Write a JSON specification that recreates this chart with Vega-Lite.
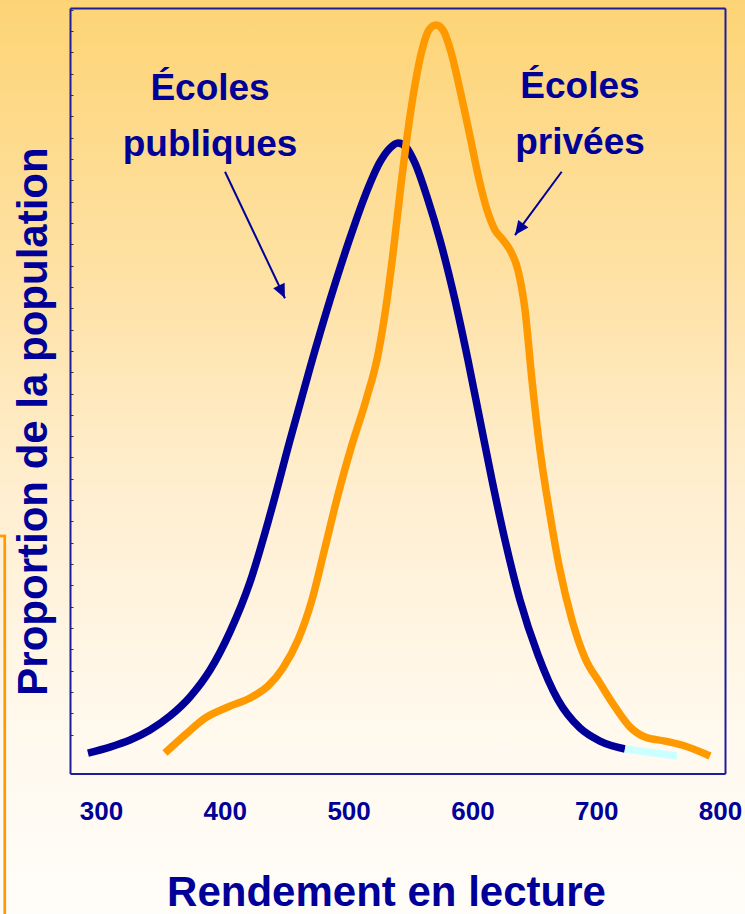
{
  "$schema": "https://vega.github.io/schema/vega-lite/v6.json",
  "width": 745,
  "height": 914,
  "autosize": "none",
  "padding": 0,
  "background": "#FFFDF8",
  "view": {
    "stroke": null,
    "fill": {
      "gradient": "linear",
      "x1": 0, "y1": 0, "x2": 0, "y2": 1,
      "stops": [
        {"offset": 0, "color": "#FDD475"},
        {"offset": 0.3, "color": "#FEE1A4"},
        {"offset": 0.55, "color": "#FFEFD2"},
        {"offset": 0.8, "color": "#FFF9EE"},
        {"offset": 1, "color": "#FFFDF9"}
      ]
    }
  },
  "config": {"font": "Liberation Sans"},
  "datasets": {
    "courbes": [
      {"serie": "publiques", "score": 289.5, "proportion": 0.96},
      {"serie": "publiques", "score": 307.3, "proportion": 1.24},
      {"serie": "publiques", "score": 323.5, "proportion": 1.57},
      {"serie": "publiques", "score": 339.6, "proportion": 2.04},
      {"serie": "publiques", "score": 355.8, "proportion": 2.70},
      {"serie": "publiques", "score": 371.9, "proportion": 3.59},
      {"serie": "publiques", "score": 388.1, "proportion": 4.85},
      {"serie": "publiques", "score": 404.2, "proportion": 6.64},
      {"serie": "publiques", "score": 420.4, "proportion": 8.98},
      {"serie": "publiques", "score": 436.5, "proportion": 12.12},
      {"serie": "publiques", "score": 452.7, "proportion": 15.64},
      {"serie": "publiques", "score": 468.8, "proportion": 19.02},
      {"serie": "publiques", "score": 485.0, "proportion": 22.21},
      {"serie": "publiques", "score": 501.1, "proportion": 25.11},
      {"serie": "publiques", "score": 513.2, "proportion": 27.08},
      {"serie": "publiques", "score": 525.4, "proportion": 28.68},
      {"serie": "publiques", "score": 533.4, "proportion": 29.33},
      {"serie": "publiques", "score": 539.9, "proportion": 29.57},
      {"serie": "publiques", "score": 546.4, "proportion": 29.38},
      {"serie": "publiques", "score": 553.6, "proportion": 28.63},
      {"serie": "publiques", "score": 564.1, "proportion": 26.90},
      {"serie": "publiques", "score": 573.8, "proportion": 25.02},
      {"serie": "publiques", "score": 585.9, "proportion": 22.21},
      {"serie": "publiques", "score": 596.4, "proportion": 19.39},
      {"serie": "publiques", "score": 606.1, "proportion": 16.58},
      {"serie": "publiques", "score": 615.8, "proportion": 13.76},
      {"serie": "publiques", "score": 626.3, "proportion": 10.95},
      {"serie": "publiques", "score": 638.4, "proportion": 8.14},
      {"serie": "publiques", "score": 653.0, "proportion": 5.56},
      {"serie": "publiques", "score": 669.1, "proportion": 3.45},
      {"serie": "publiques", "score": 686.9, "proportion": 2.13},
      {"serie": "publiques", "score": 703.0, "proportion": 1.52},
      {"serie": "publiques", "score": 723.2, "proportion": 1.15},
      {"serie": "publiques_fin", "score": 723.2, "proportion": 1.15},
      {"serie": "publiques_fin", "score": 765.2, "proportion": 0.82},
      {"serie": "privées", "score": 351.7, "proportion": 0.96},
      {"serie": "privées", "score": 367.9, "proportion": 1.81},
      {"serie": "privées", "score": 384.0, "proportion": 2.60},
      {"serie": "privées", "score": 402.6, "proportion": 3.12},
      {"serie": "privées", "score": 420.4, "proportion": 3.54},
      {"serie": "privées", "score": 434.9, "proportion": 4.10},
      {"serie": "privées", "score": 447.0, "proportion": 4.95},
      {"serie": "privées", "score": 459.1, "proportion": 6.26},
      {"serie": "privées", "score": 470.4, "proportion": 8.14},
      {"serie": "privées", "score": 480.9, "proportion": 10.58},
      {"serie": "privées", "score": 491.4, "proportion": 13.06},
      {"serie": "privées", "score": 502.7, "proportion": 15.41},
      {"serie": "privées", "score": 514.1, "proportion": 17.52},
      {"serie": "privées", "score": 523.7, "proportion": 19.63},
      {"serie": "privées", "score": 531.0, "proportion": 22.21},
      {"serie": "privées", "score": 536.7, "proportion": 24.79},
      {"serie": "privées", "score": 542.3, "proportion": 27.60},
      {"serie": "privées", "score": 548.0, "proportion": 30.18},
      {"serie": "privées", "score": 553.6, "proportion": 32.29},
      {"serie": "privées", "score": 559.3, "proportion": 33.93},
      {"serie": "privées", "score": 564.9, "proportion": 34.87},
      {"serie": "privées", "score": 570.6, "proportion": 35.10},
      {"serie": "privées", "score": 576.2, "proportion": 34.87},
      {"serie": "privées", "score": 582.7, "proportion": 33.84},
      {"serie": "privées", "score": 590.0, "proportion": 32.05},
      {"serie": "privées", "score": 598.0, "proportion": 29.90},
      {"serie": "privées", "score": 605.0, "proportion": 27.95},
      {"serie": "privées", "score": 611.8, "proportion": 26.43},
      {"serie": "privées", "score": 618.2, "proportion": 25.49},
      {"serie": "privées", "score": 624.7, "proportion": 25.02},
      {"serie": "privées", "score": 631.2, "proportion": 24.46},
      {"serie": "privées", "score": 636.8, "proportion": 23.61},
      {"serie": "privées", "score": 642.5, "proportion": 21.74},
      {"serie": "privées", "score": 648.1, "proportion": 18.45},
      {"serie": "privées", "score": 654.6, "proportion": 15.17},
      {"serie": "privées", "score": 662.7, "proportion": 12.12},
      {"serie": "privées", "score": 670.7, "proportion": 9.54},
      {"serie": "privées", "score": 680.4, "proportion": 7.20},
      {"serie": "privées", "score": 690.9, "proportion": 5.42},
      {"serie": "privées", "score": 703.0, "proportion": 4.24},
      {"serie": "privées", "score": 715.2, "proportion": 3.12},
      {"serie": "privées", "score": 727.3, "proportion": 2.18},
      {"serie": "privées", "score": 739.4, "proportion": 1.71},
      {"serie": "privées", "score": 755.5, "proportion": 1.52},
      {"serie": "privées", "score": 771.7, "proportion": 1.29},
      {"serie": "privées", "score": 791.9, "proportion": 0.82}
    ],
    "fleches": [
      {"fleche": "publiques", "score": 400.2, "proportion": 28.22, "score_fin": 448.6, "proportion_fin": 22.29},
      {"fleche": "privées", "score": 672.1, "proportion": 28.22, "score_fin": 634.4, "proportion_fin": 25.25}
    ],
    "etiquettes": [
      {"texte": "Écoles\npubliques", "score": 388.1, "proportion": 31.6},
      {"texte": "Écoles\nprivées", "score": 686.9, "proportion": 31.7}
    ]
  },
  "layer": [
    {
      "data": {"name": "courbes"},
      "transform": [{"filter": "datum.serie === 'publiques'"}],
      "mark": {"type": "line", "color": "#000099", "strokeWidth": 7.5, "interpolate": "monotone", "strokeCap": "butt", "strokeJoin": "round"},
      "encoding": {
        "x": {
          "field": "score", "type": "quantitative",
          "scale": {"domain": [275, 804], "range": [70, 725], "zero": false, "nice": false},
          "axis": {
            "orient": "bottom", "offset": -140.5,
            "values": [300, 400, 500, 600, 700, 800],
            "domainColor": "#1c1c9c", "domainWidth": 2,
            "ticks": false, "tickSize": 0, "grid": false,
            "labelFontSize": 26, "labelFontWeight": "bold", "labelColor": "#000099",
            "labelPadding": 25, "labelFlush": false, "labelOverlap": false,
            "title": "Rendement en lecture",
            "titleFontSize": 42, "titleFontWeight": "bold", "titleColor": "#000099",
            "titleX": 386, "titleY": 131.5, "titleBaseline": "alphabetic", "titleAlign": "center"
          }
        },
        "y": {
          "field": "proportion", "type": "quantitative",
          "scale": {"domain": [0, 35.9], "range": [773.5, 8], "zero": false, "nice": false},
          "axis": {
            "orient": "left", "offset": -70,
            "values": [1.82, 2.82, 3.82, 4.82, 5.82, 6.82, 7.82, 8.82, 9.82, 10.82, 11.82, 12.82, 13.82, 14.82, 15.82, 16.82, 17.82, 18.82, 19.82, 20.82, 21.82, 22.82, 23.82, 24.82, 25.82, 26.82, 27.82, 28.82, 29.82, 30.82, 31.82, 32.82, 33.82, 34.82, 35.82],
            "domainColor": "#1c1c9c", "domainWidth": 2,
            "ticks": true, "tickSize": -3, "tickColor": "#333333", "tickWidth": 1,
            "labels": false, "grid": false,
            "title": "Proportion de la population",
            "titleFontSize": 42, "titleFontWeight": "bold", "titleColor": "#000099",
            "titleAngle": -90, "titleX": -24, "titleY": 421, "titleBaseline": "alphabetic", "titleAlign": "center"
          }
        }
      }
    },
    {
      "data": {"name": "courbes"},
      "transform": [{"filter": "datum.serie === 'privées'"}],
      "mark": {"type": "line", "color": "#FF9900", "strokeWidth": 7.5, "interpolate": "monotone", "strokeCap": "butt", "strokeJoin": "round"},
      "encoding": {
        "x": {
          "field": "score", "type": "quantitative",
          "scale": {"domain": [275, 804], "range": [70, 725], "zero": false, "nice": false},
          "axis": {"orient": "top", "offset": -8, "domainColor": "#1c1c9c", "domainWidth": 2, "ticks": false, "labels": false, "grid": false, "title": null}
        },
        "y": {
          "field": "proportion", "type": "quantitative",
          "scale": {"domain": [0, 35.9], "range": [773.5, 8], "zero": false, "nice": false},
          "axis": {"orient": "right", "offset": -20, "domainColor": "#1c1c9c", "domainWidth": 2, "ticks": false, "labels": false, "grid": false, "title": null}
        }
      }
    },
    {
      "data": {"name": "courbes"},
      "transform": [{"filter": "datum.serie === 'publiques_fin'"}],
      "mark": {"type": "line", "color": "#CCFFFF", "strokeWidth": 7.5, "strokeCap": "butt"},
      "encoding": {
        "x": {"field": "score", "type": "quantitative", "axis": null},
        "y": {"field": "proportion", "type": "quantitative", "axis": null}
      }
    },
    {
      "data": {"name": "fleches"},
      "mark": {"type": "rule", "color": "#000099", "strokeWidth": 2},
      "encoding": {
        "x": {"field": "score", "type": "quantitative", "axis": null},
        "y": {"field": "proportion", "type": "quantitative", "axis": null},
        "x2": {"field": "score_fin"},
        "y2": {"field": "proportion_fin"}
      }
    },
    {
      "data": {"name": "fleches"},
      "transform": [{"filter": "datum.fleche === 'publiques'"}],
      "mark": {"type": "point", "shape": "M0,0L-0.45,1L0.45,1Z", "size": 784, "angle": 154.6, "filled": true, "color": "#000099", "opacity": 1, "strokeWidth": 0},
      "encoding": {
        "x": {"field": "score_fin", "type": "quantitative", "axis": null},
        "y": {"field": "proportion_fin", "type": "quantitative", "axis": null}
      }
    },
    {
      "data": {"name": "fleches"},
      "transform": [{"filter": "datum.fleche === 'privées'"}],
      "mark": {"type": "point", "shape": "M0,0L-0.45,1L0.45,1Z", "size": 784, "angle": 216.4, "filled": true, "color": "#000099", "opacity": 1, "strokeWidth": 0},
      "encoding": {
        "x": {"field": "score_fin", "type": "quantitative", "axis": null},
        "y": {"field": "proportion_fin", "type": "quantitative", "axis": null}
      }
    },
    {
      "data": {"name": "etiquettes"},
      "mark": {"type": "text", "align": "center", "baseline": "alphabetic", "fontSize": 37, "fontWeight": "bold", "color": "#000099", "lineBreak": "\n", "lineHeight": 56},
      "encoding": {
        "x": {"field": "score", "type": "quantitative", "axis": null},
        "y": {"field": "proportion", "type": "quantitative", "axis": null},
        "text": {"field": "texte"}
      }
    },
    {
      "data": {"values": [{"element": "cadre"}]},
      "mark": {"type": "rule", "color": "#FF9900", "strokeWidth": 2.7, "clip": false},
      "encoding": {
        "x": {"datum": 222.3, "type": "quantitative", "axis": null},
        "y": {"datum": 11.14, "type": "quantitative", "axis": null},
        "y2": {"datum": -7}
      }
    },
    {
      "data": {"values": [{"element": "cadre"}]},
      "mark": {"type": "rule", "color": "#FF9900", "strokeWidth": 2.7, "clip": false},
      "encoding": {
        "x": {"datum": 218.5, "type": "quantitative", "axis": null},
        "x2": {"datum": 223.4},
        "y": {"datum": 11.14, "type": "quantitative", "axis": null}
      }
    }
  ]
}
